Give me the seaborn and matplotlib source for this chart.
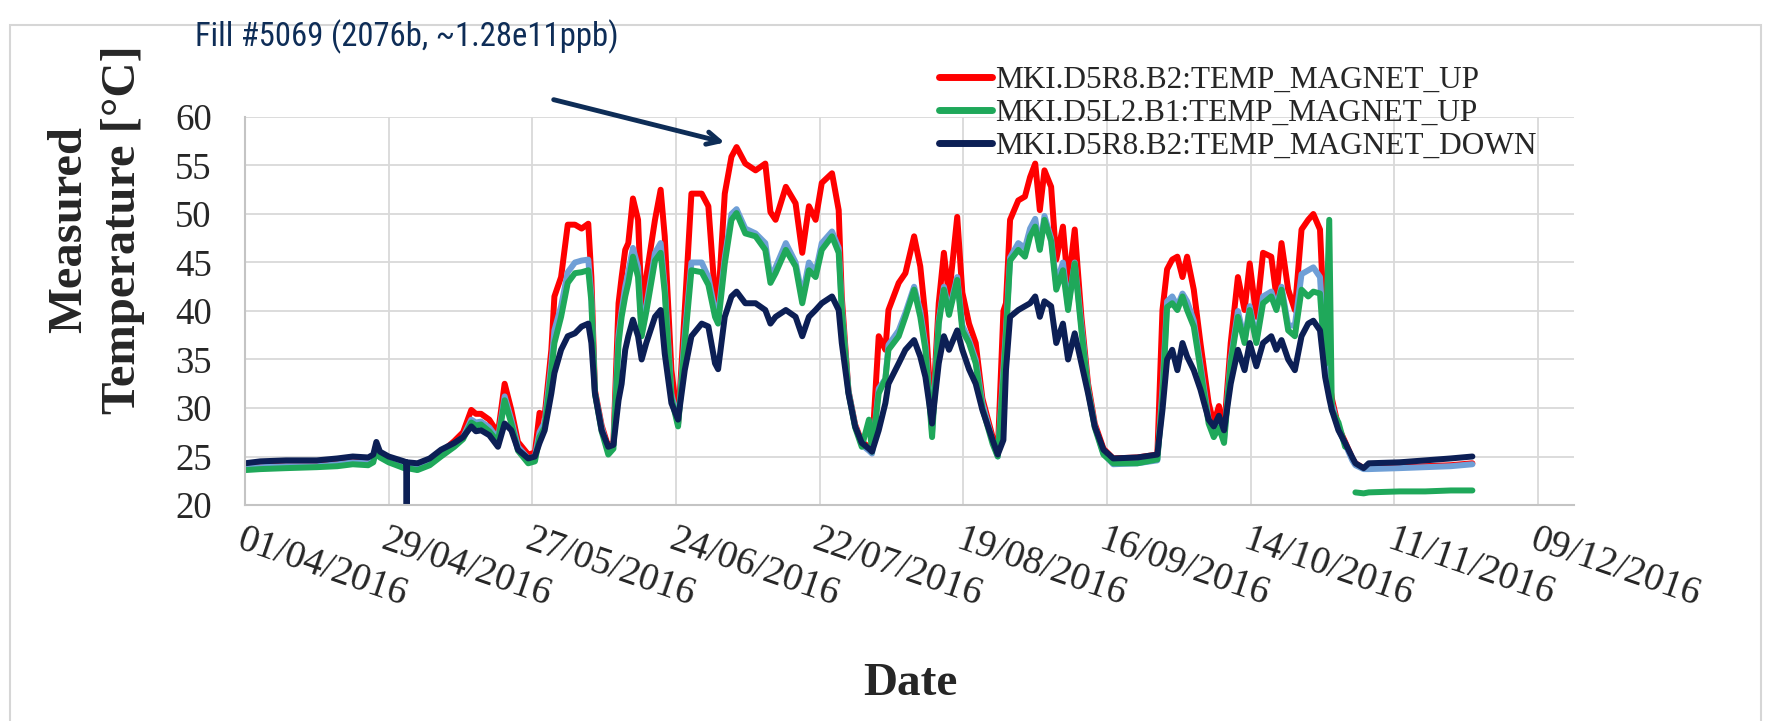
import numpy as np
import pandas as pd
import matplotlib
matplotlib.use("Agg")
import matplotlib.pyplot as plt
import seaborn as sns
from matplotlib.lines import Line2D
from matplotlib.patches import Rectangle
from matplotlib import font_manager

# ---------------- data ----------------
START = "2016-04-01"
# days since 01/04/2016
days = [0, 3, 8, 14, 18, 21, 24, 25, 25.6, 26.3, 28, 31, 31.4, 31.5, 31.6, 33.6, 36, 38.2, 40.8, 42.5,
        44.1, 45, 46, 47.6, 49.3, 50.6, 51.9, 53.2, 55.2, 56.5, 57.4, 58.4, 59.7, 60.3, 61.6, 62.9, 64.3,
        65.6, 66.9, 67.5, 68.2, 69.5, 70.8, 71.8, 72.8, 73.4, 74.1, 74.7, 75.6, 76.6, 77.3, 78.2, 79.9,
        81.0, 81.8, 83.1, 84.4, 85.7, 87.0, 89.0, 90.3, 91.6, 92.2, 93.5, 94.8, 95.8, 97.5, 99.5, 101.4,
        102.4, 103.4, 105.4, 107.3, 108.6, 109.9, 111.2, 112.4, 114.4, 115.7, 116.3, 117.6, 118.9, 120.2,
        121.6, 122.2, 123.5, 124.8, 125.4, 127.4, 128.7, 130.4, 131.6, 132.6, 133.9, 135.2, 136.2, 137.2,
        138.8, 139.8, 141.1, 142.4, 143.7, 145.7, 146.7, 147.8, 148.3, 149.1, 150.7, 152.0, 153.0, 154.0,
        154.9, 155.8, 157.1, 158.1, 159.4, 160.4, 161.7, 163.0, 164.3, 165.6, 167.3, 169.2, 173.9, 177.8,
        178.8, 179.7, 180.7, 181.7, 182.7, 183.6, 184.9, 186.2, 187.8, 188.8, 189.8, 190.8, 192.1, 193.5,
        194.8, 195.8, 197.1, 198.4, 200.0, 201.0, 202.0, 203.3, 204.6, 205.9, 207.2, 208.2, 209.5, 210.5,
        211.3, 211.8, 213.1, 214.4, 215.8, 216.4, 218.0, 219.0, 225.0, 230.0, 235.0, 239.2]

red_up = [24.0, 24.1, 24.2, 24.2, 24.4, 24.6, 24.5, 24.9, 26.2, 25.3, 24.8, 24.2, 24.2, 24.2, 24.2, 24.0, 24.5, 25.4, 26.6, 27.5,
          29.8, 29.4, 29.4, 28.8, 27.4, 32.5, 29.8, 26.5, 25.2, 25.4, 29.5, 29.2, 36.0, 41.5, 43.5, 48.9, 48.9,
          48.5, 49.0, 43.5, 31.8, 28.2, 26.0, 26.5, 40.8, 43.5, 46.3, 47.0, 51.6, 49.4, 40.4, 43.5, 49.4,
          52.5, 47.7, 33.9, 28.4, 40.1, 52.1, 52.1, 50.8, 41.5, 40.8, 52.1, 55.9, 56.9, 55.2, 54.5, 55.2,
          50.2, 49.4, 52.8, 51.1, 46.0, 50.8, 49.4, 53.2, 54.2, 50.4, 41.5, 31.8, 28.3, 26.5,
          26.0, 25.8, 37.4, 36.0, 40.1, 42.9, 43.9, 47.7, 44.6, 39.4, 28.4, 40.8, 46.0, 41.5,
          49.7, 41.9, 38.7, 36.7, 31.0, 27.0, 25.4, 40.0, 40.8, 49.4, 51.4, 51.8, 53.8, 55.2,
          50.4, 54.5, 52.8, 45.3, 48.7, 42.5, 48.4, 39.4, 32.5, 28.4, 25.8, 24.8, 24.9, 25.2,
          40.1, 44.3, 45.3, 45.6, 43.5, 45.6, 42.2, 36.7, 30.5, 28.4, 30.2, 27.7, 36.7, 43.5,
          40.1, 44.9, 39.4, 46.0, 45.6, 41.5, 47.0, 42.2, 40.1, 48.4, 49.4, 50.0, 48.4, 36.7,
          33.0, 31.0, 28.0, 26.5, 24.8, 24.3, 23.8, 23.8, 23.9, 24.0, 24.1, 24.3]

light_blue = [23.8, 23.9, 24.0, 24.0, 24.2, 24.4, 24.3, 24.6, 26.0, 25.1, 24.6, 24.0, 24.0, 24.0, 24.0, 23.8, 24.3, 25.2, 26.3, 27.0,
              28.8, 28.5, 28.6, 28.0, 26.8, 31.2, 28.8, 26.0, 24.8, 25.0, 27.5, 28.5, 34.5, 38.0, 40.5, 44.0, 45.0,
              45.2, 45.3, 41.5, 31.6, 28.0, 25.6, 26.2, 37.5, 40.0, 42.5, 44.0, 46.5, 44.5, 38.0, 40.5, 46.0,
              47.0, 42.5, 31.5, 28.3, 37.5, 45.0, 45.0, 43.5, 40.0, 39.5, 45.5, 50.0, 50.5, 48.5, 48.0, 47.0,
              43.5, 44.5, 47.0, 45.0, 41.5, 45.0, 44.0, 47.0, 48.2, 46.5, 40.5, 31.8, 28.2, 26.2,
              25.6, 25.3, 32.0, 33.0, 36.5, 38.0, 39.8, 42.5, 40.0, 36.5, 27.5, 39.0, 42.5, 40.0,
              43.5, 38.5, 37.0, 35.0, 30.5, 26.6, 25.0, 34.0, 38.0, 45.5, 47.0, 46.5, 48.5, 49.5,
              46.5, 49.8, 47.5, 42.8, 45.0, 40.5, 45.0, 38.5, 32.0, 28.2, 25.3, 24.2, 24.3, 24.6,
              32.0, 41.0, 41.5, 40.5, 41.8, 41.0, 39.0, 34.5, 28.8, 27.5, 28.5, 26.8, 35.0, 40.0,
              37.0, 40.5, 37.0, 41.5, 42.0, 40.4, 42.5, 38.5, 38.5, 43.8, 44.2, 44.5, 43.5, 35.0,
              32.0, 30.5, 27.8, 26.3, 24.6, 24.1, 23.7, 23.7, 23.8, 23.9, 24.0, 24.2]

green_up = [23.6, 23.7, 23.8, 23.9, 24.0, 24.2, 24.1, 24.4, 25.8, 24.9, 24.4, 23.8, 23.8, 23.8, 23.8, 23.6, 24.1, 25.0, 26.0, 26.8,
            28.5, 28.2, 28.3, 27.6, 26.5, 30.8, 28.4, 25.6, 24.3, 24.5, 27.0, 28.0, 33.8, 36.7, 39.4, 42.9, 43.9,
            44.0, 44.2, 41.0, 31.5, 27.6, 25.2, 25.8, 36.7, 39.4, 41.5, 42.9, 45.6, 43.5, 37.4, 39.9, 45.2,
            46.0, 41.9, 31.0, 28.1, 36.7, 44.2, 44.0, 42.7, 39.4, 38.7, 44.9, 49.4, 50.1, 48.0, 47.7, 46.3,
            42.9, 43.9, 46.3, 44.6, 40.8, 44.2, 43.5, 46.3, 47.7, 46.0, 40.1, 31.6, 28.0, 26.0,
            28.8, 25.5, 31.5, 33.0, 36.0, 37.4, 39.4, 42.2, 39.4, 36.0, 27.0, 38.7, 42.2, 39.6,
            43.2, 38.0, 36.7, 34.6, 30.0, 26.3, 25.0, 33.0, 37.4, 45.2, 46.3, 45.6, 47.7, 48.7,
            46.3, 49.4, 47.2, 42.2, 44.2, 40.1, 44.9, 38.0, 31.8, 28.0, 25.2, 24.3, 24.3, 24.7,
            31.0, 40.4, 40.8, 40.1, 41.5, 40.1, 38.4, 34.0, 28.4, 27.0, 28.0, 26.4, 34.6, 39.4,
            36.7, 40.1, 36.7, 40.8, 41.5, 40.1, 42.2, 38.0, 37.4, 42.2, 41.5, 42.0, 41.8, 34.5,
            49.4, 29.8, 28.5, 26.0, np.nan, 21.3, 21.2, 21.3, 21.4, 21.4, 21.5, 21.5]

navy_down = [24.3, 24.5, 24.6, 24.6, 24.8, 25.0, 24.9, 25.2, 26.5, 25.5, 25.0, 24.5, 24.4, 20.0, 24.4, 24.3, 24.8, 25.7, 26.4, 27.0,
             28.1, 27.6, 27.7, 27.2, 26.0, 28.4, 27.7, 25.7, 24.8, 25.0, 26.4, 27.7, 31.5, 33.6, 36.0, 37.4, 37.7,
             38.4, 38.7, 36.7, 31.5, 27.7, 26.0, 26.2, 30.8, 32.5, 36.0, 37.4, 39.1, 37.4, 35.0, 36.7, 39.4,
             40.1, 35.6, 30.5, 28.8, 33.9, 37.4, 38.7, 38.4, 34.6, 34.0, 39.4, 41.5, 42.0, 40.8, 40.8, 40.1,
             38.7, 39.4, 40.1, 39.4, 37.4, 39.4, 40.1, 40.8, 41.5, 40.1, 36.7, 31.5, 28.1, 26.4,
             25.8, 25.5, 27.7, 30.5, 32.5, 34.6, 36.0, 37.0, 35.3, 33.2, 28.4, 34.6, 37.4, 36.0,
             38.0, 36.0, 34.0, 32.5, 29.8, 26.7, 25.2, 26.7, 33.9, 39.4, 40.1, 40.5, 40.8, 41.5,
             39.4, 41.0, 40.5, 36.7, 38.7, 35.0, 37.7, 34.6, 31.5, 28.1, 25.7, 24.8, 24.9, 25.2,
             29.8, 35.0, 36.0, 33.9, 36.7, 35.3, 33.9, 31.9, 28.8, 28.1, 29.2, 27.7, 32.5, 36.0,
             33.9, 36.7, 34.3, 36.7, 37.4, 36.0, 37.0, 35.0, 33.9, 37.4, 38.7, 39.0, 38.0, 33.2,
             31.0, 29.8, 27.7, 26.4, 24.9, 24.3, 23.8, 24.3, 24.4, 24.6, 24.8, 25.0]

legend_labels = ["MKI.D5R8.B2:TEMP_MAGNET_UP",
                 "MKI.D5L2.B1:TEMP_MAGNET_UP",
                 "MKI.D5R8.B2:TEMP_MAGNET_DOWN"]
tick_labels = ["01/04/2016", "29/04/2016", "27/05/2016", "24/06/2016", "22/07/2016",
               "19/08/2016", "16/09/2016", "14/10/2016", "11/11/2016", "09/12/2016"]
y_ticks = [20, 25, 30, 35, 40, 45, 50, 55, 60]
annot_text = "Fill #5069 (2076b, ~1.28e11ppb)"
annot_day, annot_temp = 94, 57.3

# ---------------- styling ----------------
C_RED, C_LBLUE, C_GREEN, C_NAVY = "#ff0000", "#6f9fd6", "#1fa85a", "#0c1f55"
C_ANNOT = "#0e2d57"

sns.set_style("white")
plt.rcParams["font.family"] = ["Liberation Serif", "DejaVu Serif"]

# look for a condensed sans font file for the annotation (the original uses a narrow face)
annot_fp = None
annot_size = 22
candidates = [("liberationsansnarrow-regular", 24.5), ("robotocondensed-regular", 23.5),
              ("notosans-condensed.", 23.5), ("notosanscondensed-regular", 23.5),
              ("opensans-condensed", 23.0), ("dejavusanscondensed.", 21.5)]
files = [f.fname for f in font_manager.fontManager.ttflist]
import os
for key, size in candidates:
    hit = [p for p in files if key in os.path.basename(p).lower()]
    if hit:
        annot_fp = font_manager.FontProperties(fname=hit[0], size=size)
        break
if annot_fp is None:
    annot_fp = font_manager.FontProperties(family=["Liberation Sans", "DejaVu Sans"], size=annot_size)

W, H = 1773, 721
fig = plt.figure(figsize=(W / 100, H / 100), dpi=100)
ax = fig.add_axes([245 / W, 1 - 505 / H, (1574 - 245) / W, (505 - 117) / H])

t0 = pd.Timestamp(START)
df = pd.DataFrame({
    "date": t0 + pd.to_timedelta(days, unit="D"),
    "red": red_up, "lblue": light_blue, "green": green_up, "navy": navy_down,
})
df["gseg"] = df["green"].isna().cumsum()

lw = 4.3
sns.lineplot(data=df, x="date", y="red", color=C_RED, lw=lw, ax=ax)
sns.lineplot(data=df, x="date", y="lblue", color=C_LBLUE, lw=lw, ax=ax)
for _, seg in df.dropna(subset=["green"]).groupby("gseg"):
    sns.lineplot(data=seg, x="date", y="green", color=C_GREEN, lw=lw, ax=ax)
sns.lineplot(data=df, x="date", y="navy", color=C_NAVY, lw=lw, ax=ax)

ax.set_xlim(t0, pd.Timestamp("2016-12-16"))
ax.set_ylim(20, 60)
ax.set_yticks(y_ticks)
ax.set_yticklabels([str(v) for v in y_ticks], fontsize=26.5)
tick_pos = pd.to_datetime(tick_labels, format="%d/%m/%Y")
ax.set_xticks(tick_pos)
ax.set_xticklabels(tick_labels, fontsize=28, rotation=-19, ha="left", va="top",
                   rotation_mode="anchor")
ax.tick_params(axis="y", length=0, pad=24)
ax.tick_params(axis="x", length=0, pad=12)
ax.set_xlabel("")
ax.set_ylabel("")
ax.grid(True, color="#d9d9d9", lw=1.3)
for s in ["top", "right"]:
    ax.spines[s].set_visible(False)
for s in ["left", "bottom"]:
    ax.spines[s].set_color("#c4c4c4")
    ax.spines[s].set_linewidth(1.5)

# legend
handles = [Line2D([], [], color=c, lw=5) for c in (C_RED, C_GREEN, C_NAVY)]
fig.legend(handles, legend_labels, loc="upper left", bbox_to_anchor=(939 / W, 1 - 66 / H),
           frameon=False, fontsize=22.5, handlelength=1.7, handletextpad=0.1,
           labelspacing=0.12, borderpad=0, borderaxespad=0)

# axis titles
fig.text(96 / W, 1 - 230 / H, "Measured\nTemperature [°C]", rotation=90, ha="center",
         va="center", multialignment="center", fontsize=35, fontweight="bold", linespacing=1.3)
fig.text(910 / W, 1 - 684 / H, "Date", ha="center", va="center", fontsize=34, fontweight="bold")

# annotation
fig.text(407 / W, 1 - 37 / H, annot_text, ha="center", va="center",
         fontproperties=annot_fp, color=C_ANNOT)
ax.annotate("", xy=(t0 + pd.Timedelta(days=annot_day), annot_temp), xycoords="data",
            xytext=(551, H - 99), textcoords="figure pixels", annotation_clip=False,
            arrowprops=dict(arrowstyle="->,head_length=0.9,head_width=0.45", color=C_ANNOT, lw=3.5))

# slide frame
fig.patches.append(Rectangle((10 / W, -0.1), (1761 - 10) / W, (H - 25) / H + 0.1,
                             transform=fig.transFigure, fill=False, ec="#d6d6d6", lw=1.5))

fig.savefig("out.png", dpi=100)
